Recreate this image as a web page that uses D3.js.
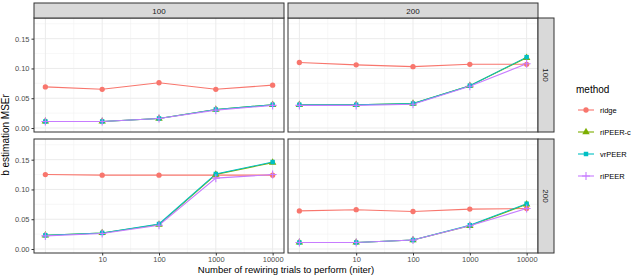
<!DOCTYPE html>
<html>
<head>
<meta charset="utf-8">
<script src="https://cdn.jsdelivr.net/npm/d3@7"></script>
<style>
  body { margin: 0; background: #fff; }
  svg text { font-family: "Liberation Sans", Arial, sans-serif; }
</style>
</head>
<body>
<div id="chart"></div>
<script>
// facet labels
var colLabels = ["100", "200"];
var rowLabels = ["100", "200"];
var niter = [1, 10, 100, 1000, 10000];
var xTicks = [10, 100, 1000, 10000];
var yTicks = [0, 0.05, 0.10, 0.15];
var methods = ["ridge", "riPEER-c", "vrPEER", "riPEER"];

// values per panel [row][col], one array per method
var ridge = [
    [[0.069, 0.065, 0.076, 0.065, 0.072], [0.110, 0.106, 0.103, 0.107, 0.107]],
    [[0.125, 0.124, 0.124, 0.124, 0.124], [0.064, 0.066, 0.063, 0.067, 0.068]]
];
var riPEERc = [
    [[0.011, 0.011, 0.016, 0.031, 0.039], [0.039, 0.039, 0.041, 0.071, 0.118]],
    [[0.023, 0.027, 0.041, 0.125, 0.145], [0.011, 0.011, 0.015, 0.039, 0.075]]
];
var vrPEER = [
    [[0.011, 0.011, 0.016, 0.031, 0.039], [0.039, 0.039, 0.041, 0.071, 0.119]],
    [[0.023, 0.027, 0.042, 0.126, 0.146], [0.011, 0.011, 0.015, 0.040, 0.076]]
];
var riPEER = [
    [[0.011, 0.011, 0.016, 0.030, 0.038], [0.038, 0.038, 0.040, 0.070, 0.108]],
    [[0.022, 0.026, 0.040, 0.119, 0.125], [0.011, 0.011, 0.015, 0.039, 0.068]]
];

var seriesValues = { "ridge": ridge, "riPEER-c": riPEERc, "vrPEER": vrPEER, "riPEER": riPEER };
var colors = { "ridge": "#F8766D", "riPEER-c": "#7CAE00", "vrPEER": "#00BFC4", "riPEER": "#C77CFF" };

var width = 633, height = 275;
var panelX = [34, 288], panelW = 250;
var panelY = [18, 139], panelH = 114;
var stripH = 15, stripW = 16;

var svg = d3.select("#chart").append("svg")
    .attr("width", width)
    .attr("height", height);

var xScale = d3.scaleLog().domain([Math.pow(10, -0.2), Math.pow(10, 4.2)]).range([0, panelW]);
var yScale = d3.scaleLinear().domain([-0.0067, 0.1847]).range([panelH, 0]);

var symbols = {
    "ridge": d3.symbol().type(d3.symbolCircle).size(22),
    "riPEER-c": d3.symbol().type(d3.symbolTriangle).size(24),
    "vrPEER": d3.symbol().type(d3.symbolSquare).size(20)
};

function drawPoint(g, m, x, y) {
    if (m === "riPEER") {
        g.append("path")
            .attr("d", "M" + (x - 4) + "," + y + "H" + (x + 4) + "M" + x + "," + (y - 4) + "V" + (y + 4))
            .attr("stroke", colors[m]).attr("stroke-width", 1.1).attr("fill", "none");
    } else {
        g.append("path")
            .attr("d", symbols[m]())
            .attr("transform", "translate(" + x + "," + y + ")")
            .attr("fill", colors[m]);
    }
}

rowLabels.forEach(function (rl, r) {
    colLabels.forEach(function (cl, c) {
        var g = svg.append("g").attr("transform", "translate(" + panelX[c] + "," + panelY[r] + ")");

        // minor grid
        var minorX = [0.5, 1.5, 2.5, 3.5].map(function (e) { return Math.pow(10, e); });
        g.selectAll(".minx").data(minorX).enter().append("line")
            .attr("x1", xScale).attr("x2", xScale)
            .attr("y1", 0).attr("y2", panelH)
            .attr("stroke", "#F2F2F2").attr("stroke-width", 0.6);
        g.selectAll(".miny").data([0.025, 0.075, 0.125, 0.175]).enter().append("line")
            .attr("x1", 0).attr("x2", panelW)
            .attr("y1", yScale).attr("y2", yScale)
            .attr("stroke", "#F2F2F2").attr("stroke-width", 0.6);
        // major grid
        g.selectAll(".majx").data(niter).enter().append("line")
            .attr("x1", xScale).attr("x2", xScale)
            .attr("y1", 0).attr("y2", panelH)
            .attr("stroke", "#EBEBEB").attr("stroke-width", 1);
        g.selectAll(".majy").data(yTicks).enter().append("line")
            .attr("x1", 0).attr("x2", panelW)
            .attr("y1", yScale).attr("y2", yScale)
            .attr("stroke", "#EBEBEB").attr("stroke-width", 1);

        // lines and points
        var line = d3.line()
            .x(function (d) { return xScale(d[0]); })
            .y(function (d) { return yScale(d[1]); });
        methods.forEach(function (m) {
            var pts = niter.map(function (n, i) { return [n, seriesValues[m][r][c][i]]; });
            g.append("path").datum(pts)
                .attr("d", line)
                .attr("fill", "none")
                .attr("stroke", colors[m])
                .attr("stroke-width", 1.1);
        });
        methods.forEach(function (m) {
            niter.forEach(function (n, i) {
                drawPoint(g, m, xScale(n), yScale(seriesValues[m][r][c][i]));
            });
        });

        // panel border
        g.append("rect")
            .attr("width", panelW).attr("height", panelH)
            .attr("fill", "none").attr("stroke", "#333333").attr("stroke-width", 1);

        // y axis on left column
        if (c === 0) {
            var ya = g.append("g").call(d3.axisLeft(yScale).tickValues(yTicks)
                .tickFormat(d3.format(".2f")).tickSize(2.5).tickPadding(2));
            ya.select(".domain").remove();
            ya.selectAll("line").attr("stroke", "#333333");
            ya.selectAll("text").attr("fill", "#4D4D4D").style("font-size", "7.5px");
        }
        // x axis on bottom row
        if (r === 1) {
            var xa = g.append("g").attr("transform", "translate(0," + panelH + ")")
                .call(d3.axisBottom(xScale).tickValues(xTicks)
                    .tickFormat(d3.format("d")).tickSize(2.5).tickPadding(1));
            xa.select(".domain").remove();
            xa.selectAll("line").attr("stroke", "#333333");
            xa.selectAll("text").attr("fill", "#4D4D4D").style("font-size", "7.5px");
        }
    });
});

// top strips
colLabels.forEach(function (cl, c) {
    svg.append("rect")
        .attr("x", panelX[c]).attr("y", panelY[0] - stripH)
        .attr("width", panelW).attr("height", stripH)
        .attr("fill", "#D9D9D9").attr("stroke", "#333333").attr("stroke-width", 1);
    svg.append("text")
        .attr("x", panelX[c] + panelW / 2).attr("y", panelY[0] - stripH / 2 + 3)
        .attr("text-anchor", "middle")
        .attr("fill", "#1A1A1A").style("font-size", "8px")
        .text(cl);
});
// right strips
rowLabels.forEach(function (rl, r) {
    var sx = panelX[1] + panelW;
    svg.append("rect")
        .attr("x", sx).attr("y", panelY[r])
        .attr("width", stripW).attr("height", panelH)
        .attr("fill", "#D9D9D9").attr("stroke", "#333333").attr("stroke-width", 1);
    svg.append("text")
        .attr("transform", "translate(" + (sx + stripW / 2 - 3) + "," + (panelY[r] + panelH / 2) + ") rotate(90)")
        .attr("text-anchor", "middle")
        .attr("fill", "#1A1A1A").style("font-size", "8px")
        .text(rl);
});

// axis titles
svg.append("text")
    .attr("transform", "translate(9,135) rotate(-90)")
    .attr("text-anchor", "middle")
    .style("font-size", "10px").attr("fill", "#000")
    .text("b estimation MSEr");
svg.append("text")
    .attr("x", 286).attr("y", 273)
    .attr("text-anchor", "middle")
    .style("font-size", "9.5px").attr("fill", "#000")
    .text("Number of rewiring trials to perform (niter)");

// legend
var lg = svg.append("g").attr("transform", "translate(576,0)");
lg.append("text").attr("x", 0).attr("y", 93)
    .style("font-size", "10px").attr("fill", "#000").text("method");
methods.forEach(function (m, i) {
    var ly = 110 + i * 22;
    lg.append("line").attr("x1", 2).attr("x2", 18).attr("y1", ly).attr("y2", ly)
        .attr("stroke", colors[m]).attr("stroke-width", 1.1);
    drawPoint(lg, m, 10, ly);
    lg.append("text").attr("x", 24).attr("y", ly + 3)
        .style("font-size", "7.5px").attr("fill", "#000").text(m);
});
</script>
</body>
</html>
